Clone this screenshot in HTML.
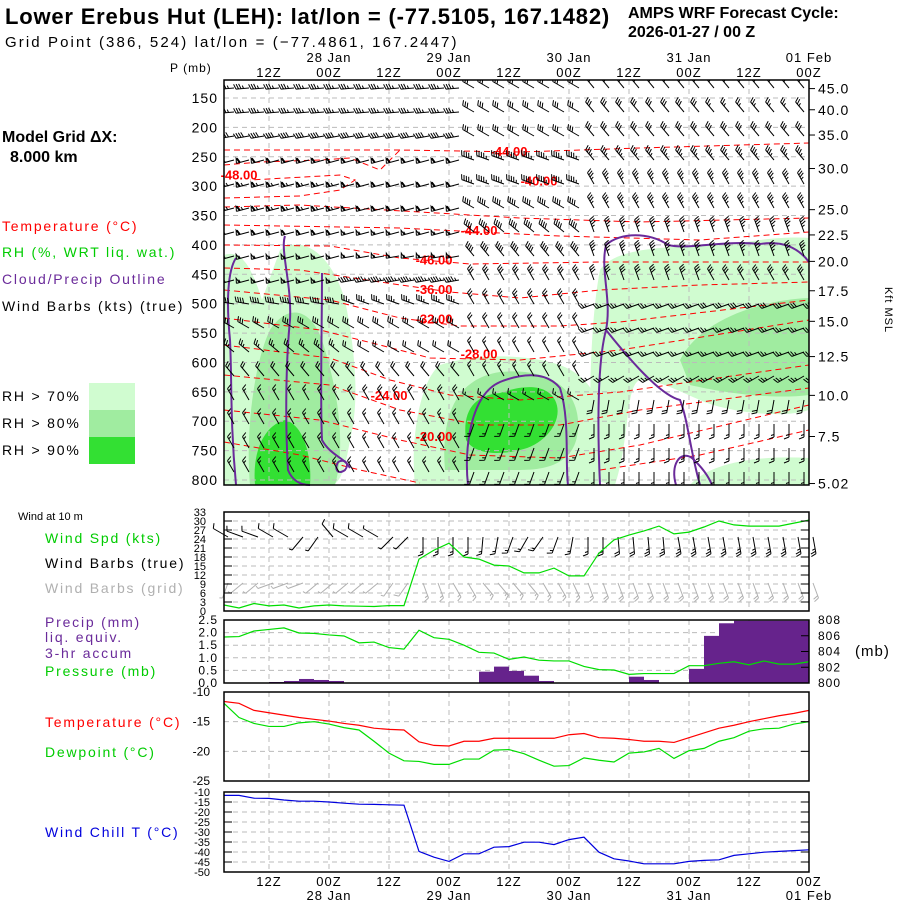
<!DOCTYPE html>
<html><head><meta charset="utf-8">
<style>
html,body{margin:0;padding:0;background:#fff;}
svg{display:block;font-family:"Liberation Sans",sans-serif;}
</style></head>
<body>
<svg id="chart" width="900" height="900" viewBox="0 0 900 900" xmlns="http://www.w3.org/2000/svg">
<defs><clipPath id="upclip"><rect x="224" y="80" width="585" height="405"/></clipPath></defs>
<rect x="0" y="0" width="900" height="900" fill="#fff"/>
<text x="5" y="24" font-size="22" font-weight="bold" letter-spacing="0.8">Lower Erebus Hut (LEH):  lat/lon = (-77.5105, 167.1482)</text>
<text x="5" y="47" font-size="15" letter-spacing="2.1">Grid Point (386, 524) lat/lon = (−77.4861, 167.2447)</text>
<text x="628" y="18" font-size="16" font-weight="bold">AMPS WRF Forecast Cycle:</text>
<text x="628" y="37" font-size="16" font-weight="bold">2026-01-27 / 00  Z</text>
<text x="2" y="142" font-size="16" font-weight="bold">Model Grid ΔX:</text>
<text x="10" y="162" font-size="16" font-weight="bold">8.000 km</text>
<g font-size="14" letter-spacing="1.8">
<text x="2" y="231" fill="#ff0000">Temperature (°C)</text>
<text x="2" y="257" fill="#00cc00">RH (%, WRT liq. wat.)</text>
<text x="2" y="284" fill="#6a2a9a">Cloud/Precip Outline</text>
<text x="2" y="311" fill="#000">Wind Barbs (kts) (true)</text>
<text x="2" y="401">RH &gt; 70%</text>
<text x="2" y="428">RH &gt; 80%</text>
<text x="2" y="455">RH &gt; 90%</text>
</g>
<rect x="89" y="383" width="46" height="27" fill="#d0fcd0"/>
<rect x="89" y="410" width="46" height="27" fill="#a0eca0"/>
<rect x="89" y="437" width="46" height="27" fill="#33e033"/>
<text x="170" y="72" font-size="12" letter-spacing="1">P (mb)</text>
<text x="885" y="310" font-size="11" letter-spacing="1" transform="rotate(90 885 310)" text-anchor="middle">Kft MSL</text>
<g font-size="14" letter-spacing="1.8">
<text x="18" y="520" font-size="11" letter-spacing="0">Wind at 10 m</text>
<text x="45" y="543" fill="#00cc00">Wind Spd (kts)</text>
<text x="45" y="568" fill="#000">Wind Barbs (true)</text>
<text x="45" y="593" fill="#b0b0b0">Wind Barbs (grid)</text>
<text x="45" y="627" fill="#6a2a9a">Precip (mm)</text>
<text x="45" y="642" fill="#6a2a9a">liq. equiv.</text>
<text x="45" y="658" fill="#6a2a9a">3-hr accum</text>
<text x="45" y="676" fill="#00cc00">Pressure (mb)</text>
<text x="45" y="727" fill="#ff0000">Temperature (°C)</text>
<text x="45" y="757" fill="#00cc00">Dewpoint (°C)</text>
<text x="45" y="837" fill="#0000dd">Wind Chill T (°C)</text>
<text x="855" y="656" font-size="15" letter-spacing="1">(mb)</text>
</g>
<g id="plots"></g>
</svg>
<script>
// ---- data ----
const hours = [3,6,9,12,15,18,21,24,27,30,33,36,39,42,45,48,51,54,57,60,63,66,69,72,75,78,81,84,87,90,93,96,99,102,105,108,111,114,117,120];
const windSpd = [2,1,2.5,1.7,2,1,1.7,2,1.7,1.6,1.5,1.8,1.8,17.3,20.3,22.6,18,17.3,15.3,15,12.7,12.7,14.3,11.7,11.7,19.3,23.7,25.3,26.7,28.3,25.7,26.3,28,30,28.7,28.3,28.3,28.3,29.3,30.3];
const pressure = [805.84,805.9,806.6,806.8,807.0,806.35,806.3,806.1,805.97,805.1,805.2,804.5,804.3,806.7,805.75,805.55,804.8,803.9,803.8,803.0,803.3,802.9,802.8,802.8,802.1,801.7,801.65,801.1,801.2,801.2,801.2,802.2,802.2,802.5,802.7,802.3,802.8,802.4,802.4,802.7];
const precip = [0,0,0,0,0.04,0.08,0.16,0.12,0.08,0,0,0,0,0,0,0,0,0,0.45,0.65,0.48,0.29,0.08,0,0,0,0,0,0.25,0.12,0,0,0.56,1.87,2.37,2.47,2.47,2.47,2.47,2.47];
const temp = [-11.6,-11.9,-13.1,-13.5,-13.9,-14.3,-14.6,-14.9,-15.3,-15.6,-16.1,-16.3,-16.4,-18.4,-19.0,-19.1,-18.3,-18.3,-17.8,-17.8,-17.8,-17.8,-17.8,-17.2,-17.0,-17.7,-17.8,-18.0,-18.3,-18.3,-18.5,-17.7,-16.9,-16.1,-15.6,-15.0,-14.5,-14.0,-13.6,-13.1];
const dewpoint = [-11.9,-14.3,-15.3,-15.8,-15.8,-15.2,-15.0,-15.4,-16.0,-16.4,-18.3,-20.3,-21.6,-21.7,-22.2,-22.2,-21.3,-21.3,-19.8,-19.7,-20.4,-21.5,-22.5,-22.4,-21.1,-21.5,-21.8,-20.3,-20.1,-19.5,-21.2,-19.9,-19.5,-18.3,-17.7,-16.6,-16.2,-16.1,-15.4,-15.0];
const windChill = [-11.7,-11.7,-13.1,-13.2,-14.0,-14.6,-14.6,-15.0,-15.6,-16.1,-16.2,-16.4,-16.6,-39.7,-42.6,-44.7,-40.9,-40.9,-37.6,-37.3,-35.1,-35.1,-36.3,-33.8,-32.6,-40.1,-43.4,-44.5,-45.9,-45.9,-45.9,-44.7,-44.2,-43.9,-41.7,-40.9,-40.1,-39.7,-39.3,-38.9];
const barb10Dir = [300,290,290,300,300,220,215,320,300,300,300,225,225,180,180,180,180,185,190,200,210,215,200,190,180,180,175,175,175,175,170,170,170,170,170,170,170,170,170,170];
const barb10Spd = [10,10,10,10,10,5,5,10,10,10,5,5,5,15,15,15,15,15,15,15,15,15,15,15,15,20,20,20,25,25,25,25,25,25,25,25,25,25,25,25];
const barbGridDir = [200,230,230,250,250,250,230,230,230,230,230,215,215,160,160,150,150,140,140,140,140,150,150,155,160,160,160,160,160,160,160,160,160,160,160,160,160,160,160,160];
const barbGridSpd = [5,5,5,5,5,5,5,5,5,5,5,5,10,15,15,15,15,15,15,15,15,15,15,15,15,20,20,20,20,20,20,20,20,20,20,20,20,20,20,20];
const upperLevels = [125,150,175,200,225,250,275,300,325,350,375,400,425,450,475,500,525];
const upperSpdBlocks = [[35,35,30,30,25],[35,35,30,30,25],[40,40,30,30,30],[60,60,45,35,35],[65,60,45,35,35],[65,60,40,35,35],[60,55,40,35,35],[55,55,40,35,35],[55,45,30,30,30],[40,35,25,25,30],[30,30,20,25,25],[25,20,15,25,25],[20,20,15,25,25],[15,20,15,20,20],[15,15,15,15,15],[15,15,15,15,15],[15,15,15,15,15]];
const upperDirBlocks = [[265,265,300,320,320],[265,265,300,320,320],[260,260,300,320,320],[255,255,290,320,320],[255,255,290,330,330],[255,255,300,330,330],[255,255,310,340,340],[255,260,320,340,340],[255,260,330,340,330],[280,290,330,250,250],[300,300,330,250,250],[310,300,330,250,250],[320,320,330,240,240],[330,330,300,190,190],[330,330,200,180,180],[330,330,200,180,180],[330,330,200,180,180]];
const pressTicks = [150,200,250,300,350,400,450,500,550,600,650,700,750,800];
const kftLabels = ["45.0","40.0","35.0","30.0","25.0","22.5","20.0","17.5","15.0","12.5","10.0","7.5","5.02"];
const kftPress = [134,170,213,270,340,383,428,478,530,590,656,726,806];
const timeTicks = [12,24,36,48,60,72,84,96,108,120];
const timeLabels = ["12Z","00Z","12Z","00Z","12Z","00Z","12Z","00Z","12Z","00Z"];
const dateTicks = [24,48,72,96,120];
const dateLabels = ["28 Jan","29 Jan","30 Jan","31 Jan","01 Feb"];
const isoLabels = ["-48.00","-44.00","-40.00","-44.00","-46.00","-36.00","-32.00","-28.00","-24.00","-20.00"];
const isoLabelHour = [6,60,66,54,45,45,45,54,36,45];
const isoLabelP = [280,240,290,375,425,475,525,585,655,725];

// ---- helpers ----
const NS='http://www.w3.org/2000/svg';
const root=document.getElementById('plots');
function mk(tag,attrs,parent){const e=document.createElementNS(NS,tag);for(const k in attrs)e.setAttribute(k,attrs[k]);(parent||root).appendChild(e);return e;}
const X0=224,X1=809;
function xH(h){return X0+(h-3)*(X1-X0)/117;}
function yP(p){return 98+(p-150)*(480-98)/650;}
function lin(v,v0,v1,y0,y1){return y0+(v-v0)*(y1-y0)/(v1-v0);}

// ---- upper panel shading ----
const shade=mk('g',{});


const rhShapes=[
 ['#d0fcd0','M224,255 C240,250 250,262 262,300 L280,250 C300,235 330,250 345,300 C355,350 360,400 350,440 C345,470 340,485 330,485 L224,485 Z'],
 ['#d0fcd0','M415,485 C410,440 420,380 440,365 C470,355 520,352 560,365 C600,380 610,420 600,470 L598,485 Z'],
 ['#d0fcd0','M592,480 C588,420 590,320 600,270 C620,240 700,250 760,240 C790,236 809,238 809,238 L809,410 C780,420 720,410 700,400 C680,392 660,380 640,380 C625,385 630,440 615,485 Z'],
 ['#d0fcd0','M690,485 C710,462 760,455 809,458 L809,485 Z'],
 ['#a0eca0','M250,485 C245,430 255,360 270,330 C290,300 315,310 325,350 C340,400 345,450 335,485 Z'],
 ['#a0eca0','M445,470 C440,410 460,378 500,372 C545,368 575,385 578,420 C580,455 560,470 520,470 Z'],
 ['#a0eca0','M680,360 C700,320 760,300 809,298 L809,395 C770,400 720,392 690,385 Z'],
 ['#33e033','M255,485 C252,450 265,425 285,420 C305,425 312,460 310,485 Z'],
 ['#33e033','M466,440 C462,410 475,395 500,393 C520,386 545,382 555,400 C565,420 545,445 520,450 C500,455 475,455 466,440 Z']
];
rhShapes.forEach((s,i)=>{const p=mk('path',{d:s[1],fill:s[0]},shade);

});

// ---- grids and frames ----
function panel(name,y0,y1,hLines){
 const g=mk('g',{});
 
 
 hLines.forEach(y=>mk('line',{x1:X0,x2:X1,y1:y,y2:y,stroke:'#bbb','stroke-dasharray':'5,4','stroke-width':1},g));
 timeTicks.forEach(h=>{const x=xH(h);mk('line',{x1:x,x2:x,y1:y0,y2:y1,stroke:'#bbb','stroke-dasharray':'5,4','stroke-width':1},g);});
 return g;
}
const upperG=panel('upper-air-panel',80,485,pressTicks.map(yP));

const isoLines=[
 [[224,150],[400,150],[520,152],[640,148],[809,143]],
 [[224,165],[260,162],[320,160],[350,158],[380,170],[400,150]],
 [[224,198],[300,196],[340,190],[355,180],[340,175],[250,180]],
 [[224,207],[300,205],[420,212],[520,218],[640,222],[809,218]],
 [[224,225],[400,228],[560,236],[700,240],[809,232]],
 [[224,245],[330,246],[400,258],[470,264],[600,262],[809,262]],
 [[224,268],[300,270],[380,282],[450,292],[520,298],[600,290],[700,285],[809,282]],
 [[224,290],[330,300],[400,318],[460,326],[560,326],[620,322],[809,300]],
 [[224,318],[320,330],[380,345],[430,358],[520,360],[620,350],[809,320]],
 [[224,345],[330,358],[390,380],[450,395],[520,400],[620,392],[809,365]],
 [[224,375],[330,385],[400,410],[480,425],[560,425],[640,410],[809,388]],
 [[224,410],[320,420],[400,440],[470,455],[560,458],[640,445],[809,405]],
 [[224,442],[300,455],[360,470],[420,483]],
 [[600,470],[700,455],[809,430]]
];
isoLines.forEach((l,i)=>{const p=mk('polyline',{points:l.map(q=>q.join(',')).join(' '),fill:'none',stroke:'#ff0000','stroke-dasharray':'6,4','stroke-width':1},upperG);

});

const cloudLines=[
 'M236,258 C228,270 226,300 230,340 C232,380 230,420 236,485',
 'M285,236 C280,250 292,285 290,320 C286,360 285,420 288,470 C292,480 300,485 310,485',
 'M322,273 C322,330 320,400 322,440 C330,455 345,458 350,468',
 'M338,462 C334,470 338,475 345,470 C350,464 345,458 338,462',
 'M468,485 C464,450 470,395 500,382 C520,374 545,370 560,388 C570,420 565,460 568,485',
 'M600,485 C597,420 598,360 606,330 C612,300 600,270 606,245 C620,232 650,232 668,245 C690,250 720,240 760,244 C785,240 800,250 809,262',
 'M606,330 C630,360 660,395 680,400 C688,420 690,450 700,485',
 'M676,485 C670,465 680,450 692,458 C705,470 710,480 712,485'
];
cloudLines.forEach((d,i)=>{const p=mk('path',{d:d,fill:'none',stroke:'#6a2a9a','stroke-width':2},upperG);

});

// barbs
function barb(g,x,y,dir,spd,color,len){
 const r=dir*Math.PI/180, dx=Math.sin(r), dy=-Math.cos(r);
 const ex=x+dx*len, ey=y+dy*len;
 let d='M'+x.toFixed(1)+','+y.toFixed(1)+'L'+ex.toFixed(1)+','+ey.toFixed(1);
 const px=-dy, py=dx; let s=Math.round(spd/5)*5; let pos=0; const F=5;
 while(s>=50){const bx=ex-dx*pos,by=ey-dy*pos;d+='M'+bx.toFixed(1)+','+by.toFixed(1)+'L'+(bx+px*F-dx*1).toFixed(1)+','+(by+py*F-dy*1).toFixed(1)+'L'+(bx-dx*3).toFixed(1)+','+(by-dy*3).toFixed(1);pos+=4;s-=50;}
 while(s>=10){const bx=ex-dx*pos,by=ey-dy*pos;d+='M'+bx.toFixed(1)+','+by.toFixed(1)+'L'+(bx+px*F+dx*2).toFixed(1)+','+(by+py*F+dy*2).toFixed(1);pos+=2.5;s-=10;}
 if(s>=5){const bx=ex-dx*pos,by=ey-dy*pos;d+='M'+bx.toFixed(1)+','+by.toFixed(1)+'L'+(bx+px*3+dx*1).toFixed(1)+','+(by+py*3+dy*1).toFixed(1);}
 const p=mk('path',{d:d,fill:'none',stroke:color,'stroke-width':1},g);
 
 
}
const barbG=mk('g',{'clip-path':'url(#upclip)'});


upperLevels.forEach((p,li)=>{
 hours.forEach((h)=>{const b=Math.min(4,Math.floor((h-3)/24));
  const y=88+li*(472-88)/16;
  barb(barbG,xH(h)+10,y,upperDirBlocks[li][b],upperSpdBlocks[li][b],'#000',13);});
});
isoLabels.forEach((t,i)=>{const e=mk('text',{x:xH(isoLabelHour[i]),y:yP(isoLabelP[i])+5,fill:'#ff0000','font-size':13,'font-weight':'bold','text-anchor':'middle'},upperG);e.textContent=t;

});
mk('rect',{x:X0,y:80,width:X1-X0,height:405,fill:'none',stroke:'#000','stroke-width':1.5},upperG);
pressTicks.forEach(p=>{const e=mk('text',{x:218,y:yP(p)+5,'text-anchor':'end','font-size':14,'letter-spacing':1},upperG);e.textContent=p;

});
kftLabels.forEach((t,i)=>{const y=yP(kftPress[i]);mk('line',{x1:X1,x2:X1+6,y1:y,y2:y,stroke:'#000'},upperG);
const e=mk('text',{x:818,y:y+5,'font-size':14,'letter-spacing':1},upperG);e.textContent=t;

});
timeTicks.forEach((h,i)=>{const e=mk('text',{x:xH(h),y:77,'text-anchor':'middle','font-size':13,'letter-spacing':1},upperG);e.textContent=timeLabels[i];

});
dateTicks.forEach((h,i)=>{const e=mk('text',{x:xH(h),y:62,'text-anchor':'middle','font-size':13,'letter-spacing':1},upperG);e.textContent=dateLabels[i];

});

// ---- wind panel ----
const wY0=512,wY1=611;const windTicks=[0,3,6,9,12,15,18,21,24,27,30,33];
const wy=v=>lin(v,0,33,wY1,wY0);
const windG=panel('wind-panel',wY0,wY1,windTicks.map(wy));
hours.forEach((h,i)=>barb(windG,xH(h)+4,583,barbGridDir[i],barbGridSpd[i],'#b0b0b0',16));
hours.forEach((h,i)=>barb(windG,xH(h)+4,537,barb10Dir[i],barb10Spd[i],'#000',17));
const wl=mk('polyline',{points:hours.map((h,i)=>xH(h)+','+wy(windSpd[i])).join(' '),fill:'none',stroke:'#00dd00','stroke-width':1.2},windG);


mk('rect',{x:X0,y:wY0,width:X1-X0,height:wY1-wY0,fill:'none',stroke:'#000','stroke-width':1.5},windG);
windTicks.forEach(v=>{const e=mk('text',{x:206,y:wy(v)+4,'text-anchor':'end','font-size':11},windG);e.textContent=v;


mk('line',{x1:X0,x2:X0+8,y1:wy(v),y2:wy(v),stroke:'#000'},windG);mk('line',{x1:X1-8,x2:X1,y1:wy(v),y2:wy(v),stroke:'#000'},windG);});

// ---- precip/pressure panel ----
const pY0=620,pY1=683;const precTicks=[0,0.5,1,1.5,2,2.5];const presTicks=[800,802,804,806,808];
const py=v=>lin(v,0,2.5,pY1,pY0), pry=v=>lin(v,800,808,pY1,pY0);
const precG=panel('precip-pressure-panel',pY0,pY1,precTicks.map(py));
hours.forEach((h,i)=>{if(precip[i]>0){const r=mk('rect',{x:xH(h-3),y:py(precip[i]),width:xH(h)-xH(h-3),height:pY1-py(precip[i]),fill:'#66238c'},precG);

}});
const pl=mk('polyline',{points:hours.map((h,i)=>xH(h)+','+pry(pressure[i])).join(' '),fill:'none',stroke:'#00dd00','stroke-width':1.2},precG);


mk('rect',{x:X0,y:pY0,width:X1-X0,height:pY1-pY0,fill:'none',stroke:'#000','stroke-width':1.5},precG);
precTicks.forEach(v=>{const e=mk('text',{x:218,y:py(v)+4,'text-anchor':'end','font-size':12,'letter-spacing':1},precG);e.textContent=v.toFixed(1);

});
presTicks.forEach(v=>{const e=mk('text',{x:818,y:pry(v)+4,'font-size':12,'letter-spacing':1},precG);e.textContent=v;


mk('line',{x1:X1-8,x2:X1,y1:pry(v),y2:pry(v),stroke:'#000'},precG);});

// ---- temperature panel ----
const tY0=692,tY1=781;const tempTicks=[-10,-15,-20,-25];
const ty=v=>lin(v,-10,-25,tY0,tY1);
const tempG=panel('temperature-panel',tY0,tY1,tempTicks.map(ty));
const dl=mk('polyline',{points:hours.map((h,i)=>xH(h)+','+ty(dewpoint[i])).join(' '),fill:'none',stroke:'#00dd00','stroke-width':1.2},tempG);


const tl=mk('polyline',{points:hours.map((h,i)=>xH(h)+','+ty(temp[i])).join(' '),fill:'none',stroke:'#ff0000','stroke-width':1.2},tempG);


mk('rect',{x:X0,y:tY0,width:X1-X0,height:tY1-tY0,fill:'none',stroke:'#000','stroke-width':1.5},tempG);
tempTicks.forEach(v=>{const e=mk('text',{x:210,y:ty(v)+4,'text-anchor':'end','font-size':12},tempG);e.textContent=v;


mk('line',{x1:X1-8,x2:X1,y1:ty(v),y2:ty(v),stroke:'#000'},tempG);});

// ---- wind chill panel ----
const cY0=792,cY1=872;const chillTicks=[-10,-15,-20,-25,-30,-35,-40,-45,-50];
const cy=v=>lin(v,-10,-50,cY0,cY1);
const chillG=panel('wind-chill-panel',cY0,cY1,chillTicks.map(cy));
const cl=mk('polyline',{points:hours.map((h,i)=>xH(h)+','+cy(windChill[i])).join(' '),fill:'none',stroke:'#0000dd','stroke-width':1.2},chillG);


mk('rect',{x:X0,y:cY0,width:X1-X0,height:cY1-cY0,fill:'none',stroke:'#000','stroke-width':1.5},chillG);
chillTicks.forEach(v=>{const e=mk('text',{x:210,y:cy(v)+4,'text-anchor':'end','font-size':11},chillG);e.textContent=v;


mk('line',{x1:X0,x2:X0+8,y1:cy(v),y2:cy(v),stroke:'#000'},chillG);mk('line',{x1:X1-8,x2:X1,y1:cy(v),y2:cy(v),stroke:'#000'},chillG);});
timeTicks.forEach((h,i)=>{const e=mk('text',{x:xH(h),y:886,'text-anchor':'middle','font-size':13,'letter-spacing':1},chillG);e.textContent=timeLabels[i];

});
dateTicks.forEach((h,i)=>{const e=mk('text',{x:xH(h),y:900,'text-anchor':'middle','font-size':13,'letter-spacing':1},chillG);e.textContent=dateLabels[i];

});
</script>
</body></html>
